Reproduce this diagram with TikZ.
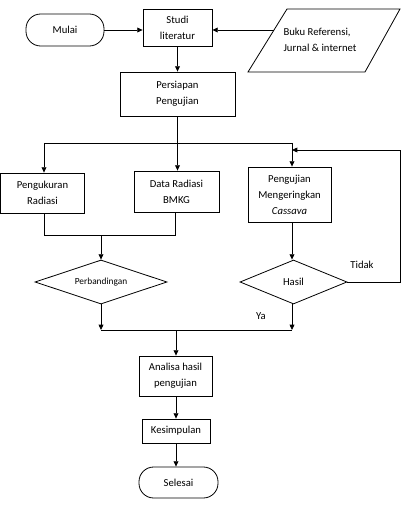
\documentclass[tikz,border=0pt]{standalone}
\usepackage{fontspec}
\setmainfont{Carlito}
\usetikzlibrary{arrows.meta,shapes.geometric,calc}
\begin{document}
\begin{tikzpicture}[x=0.75pt,y=-0.75pt,
  every node/.style={font=\fontsize{8}{12}\selectfont, align=center, inner sep=0pt},
  box/.style={draw, line width=0.6pt},
  term/.style={draw, line width=0.6pt, rounded corners=11pt},
  dec/.style={draw, line width=0.6pt, diamond, aspect=3},
  line/.style={line width=0.6pt},
  arr/.style={line width=0.6pt, -{Triangle[length=4pt,width=3.6pt]}},
  lbl/.style={font=\fontsize{8}{10}\selectfont}
]
\useasboundingbox (0,0) rectangle (403,527);
% nodes
\node[term, minimum width=78*0.75pt, minimum height=32*0.75pt] (mulai) at (65,30) {Mulai};
\node[box, minimum width=69*0.75pt, minimum height=37*0.75pt] (studi) at (177.5,27.5) {Studi\\literatur};
\draw[line width=0.6pt] (287,9) -- (400,9) -- (365,72) -- (248,72) -- cycle;
\coordinate (bukuL) at (274,30);
\node[align=left] (buku) at (320,40) {Buku Referensi,\\Jurnal \& internet};
\node[box, minimum width=115*0.75pt, minimum height=44*0.75pt] (persiapan) at (177.5,94) {Persiapan\\Pengujian};
\node[box, minimum width=84*0.75pt, minimum height=40*0.75pt] (pengukuran) at (42.5,193) {Pengukuran\\Radiasi};
\node[box, minimum width=85*0.75pt, minimum height=41*0.75pt] (data) at (176.5,191.5) {Data Radiasi\\BMKG};
\node[box, minimum width=83*0.75pt, minimum height=55*0.75pt] (pengujian) at (289.5,194.5) {Pengujian\\Mengeringkan\\\textit{Cassava}};
\node[dec, minimum width=132*0.75pt, minimum height=44*0.75pt, font=\fontsize{7}{9}\selectfont] (perb) at (101,282) {Perbandingan};
\node[dec, minimum width=107*0.75pt, minimum height=44*0.75pt] (hasil) at (293.5,282) {Hasil};
\node[box, minimum width=73*0.75pt, minimum height=40*0.75pt] (analisa) at (175.5,376) {Analisa hasil\\pengujian};
\node[box, minimum width=68*0.75pt, minimum height=24*0.75pt] (kesimpulan) at (176,431) {Kesimpulan};
\node[term, minimum width=79*0.75pt, minimum height=31*0.75pt] (selesai) at (178.5,482.5) {Selesai};
\node[lbl] (tidak) at (362,265) {Tidak};
\node[lbl] (ya) at (261,316) {Ya};
% junction coordinates
\coordinate (jL) at (44,143);
\coordinate (jR) at (292,143);
\coordinate (fbY) at (400,150);
\coordinate (mL) at (44,235);
\coordinate (mR) at (175,235);
\coordinate (mC) at (101,235);
\coordinate (bL) at (101,330);
\coordinate (bR) at (292,330);
\coordinate (bC) at (176,330);
% connectors
\draw[arr] (mulai.east) -- (mulai.east -| studi.west);
\draw[arr] (bukuL) -- (bukuL -| studi.east);
\draw[arr] (studi.south) -- (studi.south |- persiapan.north);
\draw[line] (persiapan.south) -- (persiapan.south |- jL);
\draw[line] (jL) -- (jR);
\draw[arr] (jL) -- (jL |- pengukuran.north);
\draw[arr] (persiapan.south |- jL) -- (persiapan.south |- data.north);
\draw[arr] (jR) -- (jR |- pengujian.north);
\draw[line] (hasil.east) -- (hasil.east -| fbY) -- (fbY);
\draw[arr] (fbY) -- (jR |- fbY);
\draw[line] (mL |- pengukuran.south) -- (mL) -- (mR) -- (mR |- data.south);
\draw[arr] (mC) -- (perb.north);
\draw[arr] (jR |- pengujian.south) -- (jR |- hasil.north);
\draw[arr] (perb.south) -- (bL);
\draw[arr] (jR |- hasil.south) -- (bR);
\draw[line] (bL) -- (bR);
\draw[arr] (bC) -- (bC |- analisa.north);
\draw[arr] (bC |- analisa.south) -- (bC |- kesimpulan.north);
\draw[arr] (bC |- kesimpulan.south) -- (bC |- selesai.north);
\end{tikzpicture}
\end{document}
